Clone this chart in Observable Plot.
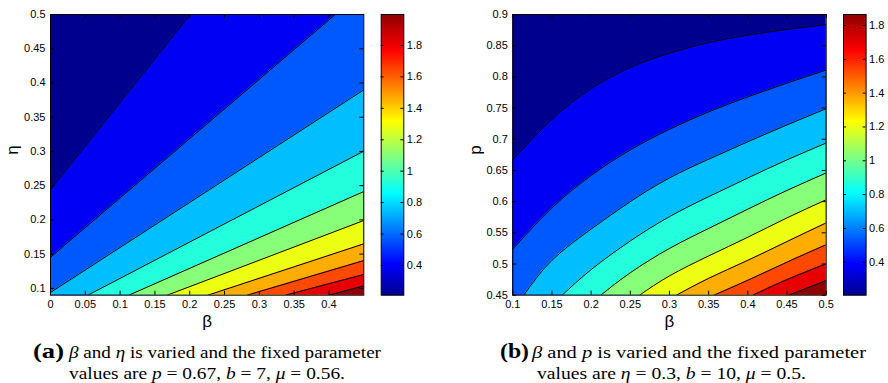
<!DOCTYPE html>
<html><head><meta charset="utf-8">
<script src="https://cdn.jsdelivr.net/npm/d3@7"></script>
<script src="https://cdn.jsdelivr.net/npm/@observablehq/plot@0.6"></script>
<style>
html,body{margin:0;padding:0;background:#fff;}
body{width:888px;height:383px;position:relative;overflow:hidden;}
.abs{position:absolute;top:0;}
.abs svg{max-width:none !important;}
</style></head><body>
<div id="pa" class="abs" style="left:0px;width:373px"></div>
<div id="ca" class="abs" style="left:380px;width:60px"></div>
<div id="pb" class="abs" style="left:452px;width:384px"></div>
<div id="cb" class="abs" style="left:842px;width:60px"></div>
<svg id="cap" class="abs" style="top:332px;left:0" width="888" height="51"></svg>
<script>
// ---------- Panel (a): beta vs eta ----------
const betaDomainA = [0, 0.45];
const etaDomainA = [0.09, 0.5];
const xTicksA = [0, 0.05, 0.1, 0.15, 0.2, 0.25, 0.3, 0.35, 0.4];
const yTicksA = [0.1, 0.15, 0.2, 0.25, 0.3, 0.35, 0.4, 0.45, 0.5];
const levelsA = [0.211, 0.390, 0.568, 0.747, 0.925, 1.104, 1.283, 1.461, 1.640, 1.818, 1.997];
const colorbarTicksA = [0.4, 0.6, 0.8, 1, 1.2, 1.4, 1.6, 1.8];
// contour lines as [beta, eta] points (levels 1..10)
const contourA = [
  [[0, 0.244], [0.201, 0.5]],
  [[0, 0.1455], [0.409, 0.5]],
  [[0, 0.094], [0.45, 0.39]],
  [[0.0536, 0.09], [0.45, 0.3004]],
  [[0.1125, 0.09], [0.45, 0.2414]],
  [[0.1676, 0.09], [0.45, 0.1991]],
  [[0.226, 0.09], [0.45, 0.165]],
  [[0.2824, 0.09], [0.45, 0.1406]],
  [[0.3375, 0.09], [0.45, 0.1202]],
  [[0.3997, 0.09], [0.45, 0.1036]]
];

// ---------- Panel (b): beta vs p ----------
const betaDomainB = [0.1, 0.5];
const pDomainB = [0.45, 0.9];
const xTicksB = [0.1, 0.15, 0.2, 0.25, 0.3, 0.35, 0.4, 0.45, 0.5];
const yTicksB = [0.45, 0.5, 0.55, 0.6, 0.65, 0.7, 0.75, 0.8, 0.85, 0.9];
const levelsB = [0.205, 0.371, 0.537, 0.703, 0.869, 1.035, 1.201, 1.367, 1.533, 1.699, 1.865];
const colorbarTicksB = [0.4, 0.6, 0.8, 1, 1.2, 1.4, 1.6, 1.8];
const contourB = [
  [[0.1,0.667],[0.15,0.732],[0.2,0.781],[0.25,0.815],[0.3,0.838],[0.35,0.855],[0.4,0.867],[0.45,0.876],[0.5,0.884]],
  [[0.1,0.524],[0.15,0.59],[0.2,0.642],[0.25,0.683],[0.3,0.716],[0.35,0.744],[0.4,0.768],[0.45,0.79],[0.5,0.811]],
  [[0.114,0.45],[0.15,0.506],[0.2,0.556],[0.25,0.6],[0.3,0.638],[0.35,0.668],[0.4,0.696],[0.45,0.723],[0.5,0.749]],
  [[0.163,0.45],[0.2,0.491],[0.25,0.537],[0.3,0.576],[0.35,0.608],[0.4,0.638],[0.45,0.667],[0.5,0.694]],
  [[0.2123,0.45],[0.25,0.486],[0.3,0.525],[0.35,0.557],[0.4,0.588],[0.45,0.618],[0.5,0.646]],
  [[0.2617,0.45],[0.3,0.481],[0.35,0.513],[0.4,0.543],[0.45,0.574],[0.5,0.603]],
  [[0.3089,0.45],[0.35,0.477],[0.4,0.506],[0.45,0.536],[0.5,0.566]],
  [[0.3566,0.45],[0.4,0.474],[0.45,0.503],[0.5,0.531]],
  [[0.4064,0.45],[0.45,0.475],[0.5,0.5003]],
  [[0.4523,0.45],[0.5,0.4735]]
];

// ---------- Captions ----------
const captionLabels = ["(a)", "(b)"];
const captionA1 = [["β","i"],[" and ",""],["η","i"],[" is varied and the fixed parameter",""]];
const captionA2 = [["values are ",""],["p","i"],[" = 0.67, ",""],["b","i"],[" = 7, ",""],["μ","i"],[" = 0.56.",""]];
const captionB1 = [["β","i"],[" and ",""],["p","i"],[" is varied and the fixed parameter",""]];
const captionB2 = [["values are ",""],["η","i"],[" = 0.3, ",""],["b","i"],[" = 10, ",""],["μ","i"],[" = 0.5.",""]];

// MATLAB jet colormap stops
const jetStops = [0, 7/63, 23/63, 39/63, 55/63, 1];
const jetColors = ["#00008f", "#0000ff", "#00ffff", "#ffff00", "#ff0000", "#8f0000"];

const SANS = '"Liberation Sans", Arial, Helvetica, sans-serif';
const fmt = d => String(+(+d).toFixed(2));

function jet(levels) {
  const lo = levels[0], hi = levels[levels.length - 1];
  return {type: "linear", domain: jetStops.map(t => lo + t * (hi - lo)), range: jetColors, interpolate: "rgb", clamp: true};
}

function panel(cfg) {
  const {xdom, ydom, levels, lines, xticks, yticks, W, ml, mr, curve} = cfg;
  const H = 340, mt = 14, mb = 45.3;
  const fw = W - ml - mr, fh = H - mt - mb, tl = 4;
  const bands = lines.map((pts, i) => {
    const last = pts[pts.length - 1];
    const poly = (last[1] >= ydom[1] && last[0] < xdom[1]) ? pts.concat([[xdom[1], ydom[1]]]) : pts;
    return Plot.areaY(poly, {x: d => d[0], y1: ydom[0], y2: d => d[1], fill: () => levels[i + 1], curve, clip: true});
  });
  const contourLines = lines.map(pts => Plot.line(pts, {x: d => d[0], y: d => d[1], stroke: "#000", strokeWidth: 1, curve, clip: true}));
  return Plot.plot({
    width: W, height: H, marginTop: mt, marginBottom: mb, marginLeft: ml, marginRight: mr,
    x: {domain: xdom}, y: {domain: ydom},
    color: jet(levels),
    style: {fontFamily: SANS, fontSize: "11px", background: "transparent", color: "#000", overflow: "visible", maxWidth: "none"},
    marks: [
      Plot.rect([levels[0]], {x1: xdom[0], x2: xdom[1], y1: ydom[0], y2: ydom[1], fill: d => d}),
      ...bands,
      ...contourLines,
      Plot.frame({stroke: "#000", strokeWidth: 1}),
      Plot.tickX(xticks, {x: d => d, insetTop: fh - tl, stroke: "#000"}),
      Plot.tickX(xticks, {x: d => d, insetBottom: fh - tl, stroke: "#000"}),
      Plot.tickY(yticks, {y: d => d, insetRight: fw - tl, stroke: "#000"}),
      Plot.tickY(yticks, {y: d => d, insetLeft: fw - tl, stroke: "#000"}),
      Plot.axisX(xticks, {anchor: "bottom", tickSize: 0, tickPadding: 5, tickFormat: fmt, label: null}),
      Plot.axisY(yticks, {anchor: "left", tickSize: 0, tickPadding: 5, tickFormat: fmt, label: null}),
      Plot.text([cfg.xLabel], {frameAnchor: "bottom", dy: 26, fontSize: 17, text: d => d, lineAnchor: "middle"}),
      Plot.text([cfg.yLabel], {frameAnchor: "left", dx: cfg.ydx, rotate: -90, fontSize: 17, text: d => d, lineAnchor: "middle"})
    ]
  });
}

function colorbar(levels, ticks, ml) {
  const W = 60, H = 340, mt = 14, mb = 45.3, cw = 22.6, mr = W - ml - cw, tl = 3;
  const lo = levels[0], hi = levels[levels.length - 1];
  return Plot.plot({
    width: W, height: H, marginTop: mt, marginBottom: mb, marginLeft: ml, marginRight: mr,
    x: {domain: [0, 1], axis: null}, y: {domain: [lo, hi]},
    color: jet(levels),
    style: {fontFamily: SANS, fontSize: "11px", background: "transparent", color: "#000", overflow: "visible", maxWidth: "none"},
    marks: [
      Plot.raster({x1: 0, x2: 1, y1: lo, y2: hi, width: 2, height: 256, fill: (x, y) => y}),
      Plot.frame({stroke: "#000", strokeWidth: 1}),
      Plot.tickY(ticks, {y: d => d, insetRight: cw - tl, stroke: "#000"}),
      Plot.tickY(ticks, {y: d => d, insetLeft: cw - tl, stroke: "#000"}),
      Plot.axisY(ticks, {anchor: "right", tickSize: 0, tickPadding: 3, tickFormat: fmt, label: null})
    ]
  });
}

document.getElementById("pa").append(panel({
  xdom: betaDomainA, ydom: etaDomainA, levels: levelsA, lines: contourA,
  xticks: xTicksA, yticks: yTicksA, W: 373, ml: 50, mr: 9.7, curve: "linear",
  xLabel: "β", yLabel: "η", ydx: -38
}));
document.getElementById("ca").append(colorbar(levelsA, colorbarTicksA, 0.7));
document.getElementById("pb").append(panel({
  xdom: betaDomainB, ydom: pDomainB, levels: levelsB, lines: contourB,
  xticks: xTicksB, yticks: yTicksB, W: 384, ml: 60.3, mr: 10.3, curve: "natural",
  xLabel: "β", yLabel: "p", ydx: -37
}));
document.getElementById("cb").append(colorbar(levelsB, colorbarTicksB, 1));

// captions
const cap = d3.select("#cap");
const SERIF = '"Liberation Serif", "Times New Roman", serif';
function label(x, y, txt, len) {
  cap.append("text").attr("x", x).attr("y", y).attr("font-family", SERIF).attr("font-weight", "bold")
    .attr("font-size", 22).attr("textLength", len).attr("lengthAdjust", "spacingAndGlyphs").text(txt);
}
function line(x, y, parts, len) {
  const t = cap.append("text").attr("x", x).attr("y", y).attr("font-family", SERIF).attr("font-size", 17)
    .attr("textLength", len).attr("lengthAdjust", "spacingAndGlyphs").attr("xml:space", "preserve");
  parts.forEach(([s, st]) => t.append("tspan").attr("font-style", st === "i" ? "italic" : "normal").text(s));
}
label(33, 26, captionLabels[0], 31);
line(69, 26, captionA1, 312);
line(69, 46.5, captionA2, 276);
label(500, 26, captionLabels[1], 29);
line(532, 26, captionB1, 334);
line(537, 46.5, captionB2, 269);
</script>
</body></html>
